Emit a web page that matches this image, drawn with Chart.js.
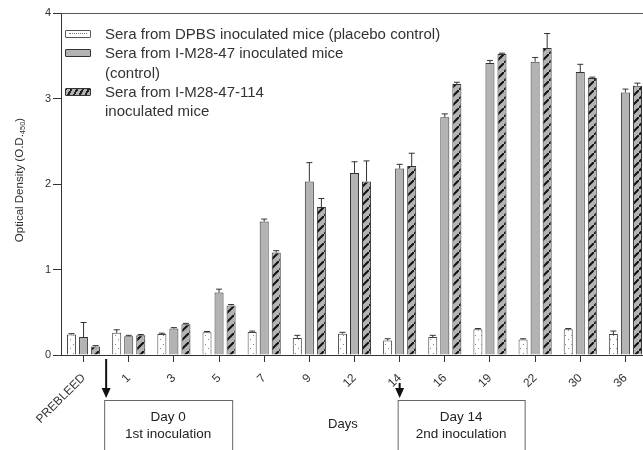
<!DOCTYPE html>
<html lang="en">
<head>
  <meta charset="UTF-8">
  <title>Optical Density by Day</title>
  <script src="https://cdn.jsdelivr.net/npm/chart.js"></script>
  <style>
    body { margin: 0; overflow: hidden; background: #fff; font-family: "Liberation Sans", Arial, sans-serif; }
    #wrap { position: relative; width: 648px; height: 450px; }
    .legend { position: absolute; left: 65px; top: 24px; color: #333; font-size: 15px; line-height: 19.3px; }
    .legend .item { position: relative; padding-left: 40px; }
    .legend .sw { position: absolute; left: 0; top: 6px; width: 24px; height: 6px; border: 1px solid #333; border-radius: 1px; }
    .sw.dots { background: #fff; border-color: #555; }
    .sw.dots::after { content: ""; position: absolute; left: 3px; right: 3px; top: 2px; border-top: 1px dotted #777; }
    .sw.gray { background: #b3b3b3; }
    .sw.hatch { background: repeating-linear-gradient(-60deg, #b3b3b3 0 3px, #222 3px 5px); }
  </style>
</head>
<body>
<div id="wrap">
  <canvas id="odChart" width="648" height="450"></canvas>
  <div class="legend">
    <div class="item"><span class="sw dots"></span>Sera from DPBS inoculated mice (placebo control)</div>
    <div class="item"><span class="sw gray"></span>Sera from I-M28-47 inoculated mice<br>(control)</div>
    <div class="item"><span class="sw hatch"></span>Sera from I-M28-47-114<br>inoculated mice</div>
  </div>
</div>

<script>
  // categories (days)
  const days = ['PREBLEED', '1', '3', '5', '7', '9', '12', '14', '16', '19', '22', '30', '36'];

  // mean O.D.450 per group
  const dpbs     = [0.24, 0.26, 0.245, 0.265, 0.27, 0.20, 0.25, 0.17, 0.21, 0.30, 0.18, 0.30, 0.245];
  const m28      = [0.21, 0.22, 0.31, 0.73, 1.56, 2.03, 2.13, 2.18, 2.78, 3.415, 3.43, 3.31, 3.07];
  const m28_114  = [0.10, 0.23, 0.36, 0.58, 1.20, 1.73, 2.03, 2.21, 3.17, 3.52, 3.59, 3.24, 3.15];

  // upper error (SD)
  const dpbsErr    = [0.01, 0.035, 0.01, 0.01, 0.01, 0.03, 0.015, 0.02, 0.02, 0.01, 0.01, 0.01, 0.035];
  const m28Err     = [0.17, 0.01, 0.01, 0.04, 0.03, 0.22, 0.13, 0.05, 0.04, 0.03, 0.05, 0.09, 0.04];
  const m28_114Err = [0.01, 0.01, 0.01, 0.01, 0.02, 0.10, 0.24, 0.15, 0.02, 0.01, 0.17, 0.01, 0.03];

  const yTicks = [0, 1, 2, 3, 4];

  function makePattern(kind) {
    const c = document.createElement('canvas');
    const ctx = c.getContext('2d');
    if (kind === 'dots') {
      c.width = 6; c.height = 9;
      ctx.fillStyle = '#fff';
      ctx.fillRect(0, 0, 6, 9);
      ctx.fillStyle = '#888';
      ctx.fillRect(1, 2, 1, 1);
      ctx.fillRect(4, 6, 1, 1);
    } else {
      c.width = 9; c.height = 9;
      ctx.fillStyle = '#b3b3b3';
      ctx.fillRect(0, 0, 9, 9);
      ctx.strokeStyle = '#111';
      ctx.lineWidth = 2;
      ctx.beginPath();
      ctx.moveTo(-1, 10); ctx.lineTo(10, -1);
      ctx.stroke();
    }
    return ctx.createPattern(c, 'repeat');
  }

  // draws upper error bars from the error arrays
  const errorBars = {
    id: 'errorBars',
    afterDatasetsDraw(chart) {
      const ctx = chart.ctx;
      const y = chart.scales.y;
      ctx.save();
      ctx.strokeStyle = '#333';
      ctx.lineWidth = 1;
      chart.data.datasets.forEach((ds, i) => {
        const meta = chart.getDatasetMeta(i);
        meta.data.forEach((bar, j) => {
          const top = y.getPixelForValue(ds.data[j] + ds.err[j]);
          ctx.beginPath();
          ctx.moveTo(bar.x, bar.y);
          ctx.lineTo(bar.x, top);
          ctx.moveTo(bar.x - 3, top);
          ctx.lineTo(bar.x + 3, top);
          ctx.stroke();
        });
      });
      ctx.restore();
    }
  };

  // top frame line, y title, inoculation notes
  const extras = {
    id: 'extras',
    afterDraw(chart) {
      const ctx = chart.ctx;
      const a = chart.chartArea;
      const x = chart.scales.x;
      ctx.save();
      ctx.strokeStyle = '#555';
      ctx.lineWidth = 1.2;
      ctx.beginPath();
      ctx.moveTo(a.left, a.top + 0.5);
      ctx.lineTo(a.right, a.top + 0.5);
      ctx.stroke();

      // y title with subscript
      ctx.translate(20, 180);
      ctx.rotate(-Math.PI / 2);
      ctx.fillStyle = '#333';
      ctx.textBaseline = 'middle';
      const main = 'Optical Density (O.D.';
      ctx.font = '11.5px "Liberation Sans", Arial, sans-serif';
      const w1 = ctx.measureText(main).width;
      ctx.font = '7.5px "Liberation Sans", Arial, sans-serif';
      const w2 = ctx.measureText('450').width;
      ctx.font = '11.5px "Liberation Sans", Arial, sans-serif';
      const w3 = ctx.measureText(')').width;
      let sx = -(w1 + w2 + w3) / 2;
      ctx.fillText(main, sx, 0);
      ctx.font = '7.5px "Liberation Sans", Arial, sans-serif';
      ctx.fillText('450', sx + w1, 3);
      ctx.font = '11.5px "Liberation Sans", Arial, sans-serif';
      ctx.fillText(')', sx + w1 + w2, 0);
      ctx.restore();

      const arrow = (ax, y0, y1) => {
        ctx.strokeStyle = '#111';
        ctx.fillStyle = '#111';
        ctx.lineWidth = 2;
        ctx.beginPath();
        ctx.moveTo(ax, y0);
        ctx.lineTo(ax, y1 - 8);
        ctx.stroke();
        ctx.beginPath();
        ctx.moveTo(ax - 4.5, y1 - 10);
        ctx.lineTo(ax + 4.5, y1 - 10);
        ctx.lineTo(ax, y1);
        ctx.closePath();
        ctx.fill();
      };
      const box = (bx, w, l1, l2) => {
        ctx.strokeStyle = '#666';
        ctx.lineWidth = 1;
        ctx.strokeRect(bx + 0.5, 400.5, w, 70);
        ctx.fillStyle = '#222';
        ctx.font = '13.5px "Liberation Sans", Arial, sans-serif';
        ctx.textAlign = 'center';
        ctx.textBaseline = 'middle';
        ctx.fillText(l1, bx + w / 2, 417);
        ctx.fillText(l2, bx + w / 2, 434);
      };

      ctx.save();
      const x1 = (x.getPixelForValue(0) + x.getPixelForValue(1)) / 2;
      const x2 = x.getPixelForValue(7);
      arrow(x1, 359, 398);
      arrow(x2, 383, 398);
      box(x1 - 2, 128, 'Day 0', '1st inoculation');
      box(x2 - 2, 127, 'Day 14', '2nd inoculation');
      ctx.fillStyle = '#222';
      ctx.font = '13px "Liberation Sans", Arial, sans-serif';
      ctx.textAlign = 'center';
      ctx.textBaseline = 'middle';
      ctx.fillText('Days', (x.getPixelForValue(6) + x.getPixelForValue(5)) / 2 + 11, 424);
      ctx.restore();
    }
  };

  const font = { family: '"Liberation Sans", Arial, sans-serif', size: 11 };

  new Chart(document.getElementById('odChart'), {
    type: 'bar',
    data: {
      labels: days,
      datasets: [
        { label: 'DPBS', data: dpbs, err: dpbsErr, backgroundColor: makePattern('dots'), borderColor: '#444', borderWidth: 1 },
        { label: 'I-M28-47', data: m28, err: m28Err, backgroundColor: '#b3b3b3', borderColor: '#333', borderWidth: 1 },
        { label: 'I-M28-47-114', data: m28_114, err: m28_114Err, backgroundColor: makePattern('hatch'), borderColor: '#333', borderWidth: 1 }
      ]
    },
    options: {
      responsive: false,
      animation: false,
      categoryPercentage: 0.8,
      barPercentage: 0.75,
      layout: { padding: { top: 13, right: 0, left: 0, bottom: 0 } },
      plugins: { legend: { display: false }, tooltip: { enabled: false } },
      scales: {
        x: {
          grid: { display: true, drawOnChartArea: false, offset: false, tickLength: 7, color: '#333' },
          border: { color: '#333', width: 1 },
          ticks: { minRotation: 45, maxRotation: 45, autoSkip: false, color: '#333', font: { ...font, size: 12 }, padding: 9 },
          afterFit: s => { s.height = 95; }
        },
        y: {
          min: 0,
          max: 4,
          afterBuildTicks: s => { s.ticks = yTicks.map(v => ({ value: v })); },
          grid: { drawOnChartArea: false, tickLength: 8, color: '#333' },
          border: { color: '#333', width: 1 },
          ticks: { color: '#333', font, padding: 2 },
          afterFit: s => { s.width = 61; }
        }
      }
    },
    plugins: [errorBars, extras]
  });
</script>
</body>
</html>
